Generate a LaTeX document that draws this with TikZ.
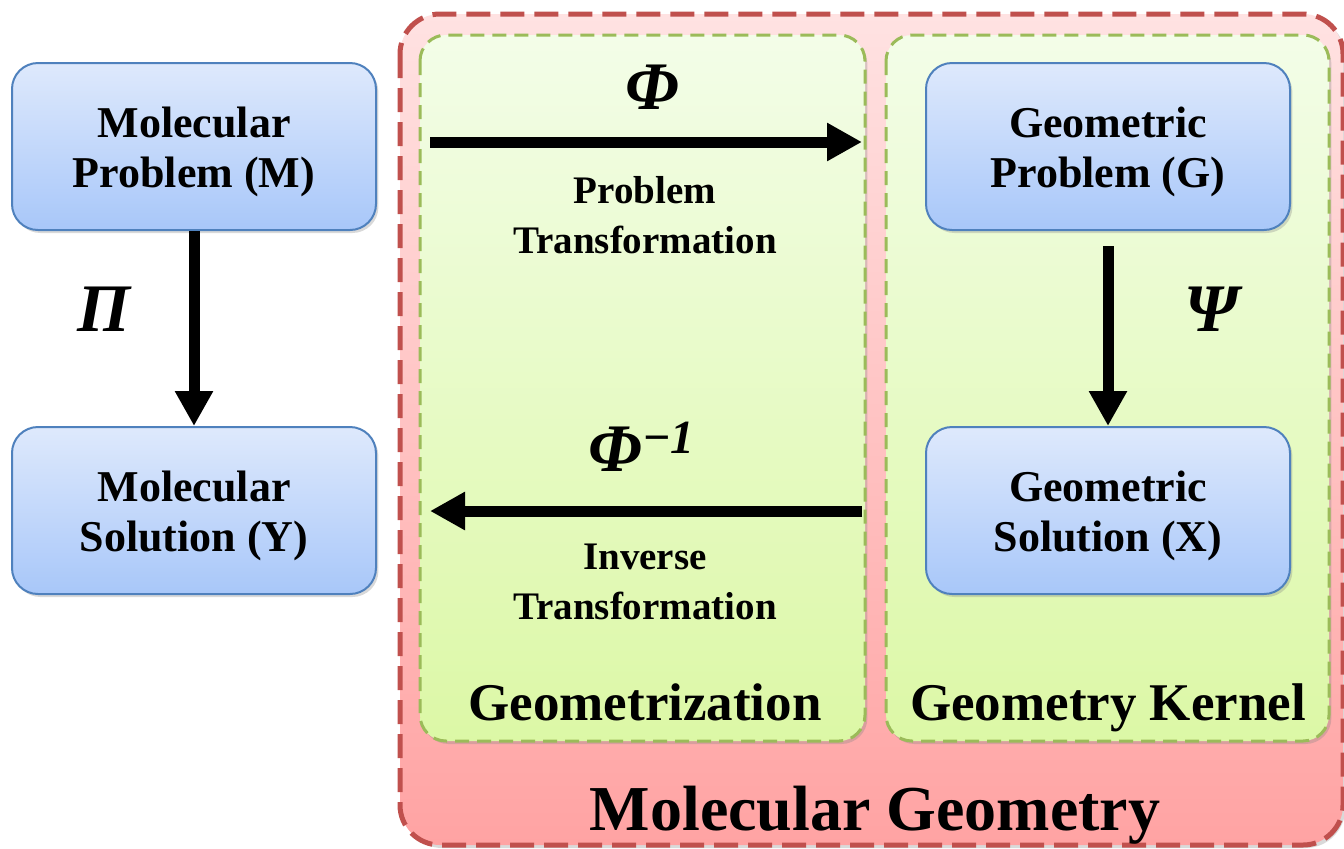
\documentclass[tikz,border=0pt]{standalone}
\usepackage{fontspec}
\setmainfont{Liberation Serif}
\usetikzlibrary{arrows.meta,shadows}
\definecolor{redb}{HTML}{C0504D}
\definecolor{redt}{HTML}{FFE2E2}
\definecolor{redbot}{HTML}{FFA3A3}
\definecolor{greenb}{HTML}{9BBB59}
\definecolor{greent}{HTML}{F3FDE8}
\definecolor{greenbot}{HTML}{DCF8A6}
\definecolor{blueb}{HTML}{4F81BD}
\definecolor{bluet}{HTML}{DEE9FC}
\definecolor{bluebot}{HTML}{A8C7F9}
\tikzset{
  shd/.style={drop shadow={opacity=0.3,shadow xshift=1.2pt,shadow yshift=-1.5pt}},
  outer/.style={draw=redb,line width=2.5pt,dash pattern=on 12pt off 5pt,rounded corners=20pt,
    top color=redt,bottom color=redbot,shd},
  panel/.style={draw=greenb,line width=1.5pt,dash pattern=on 7pt off 4pt,rounded corners=13pt,
    top color=greent,bottom color=greenbot,shd},
  blk/.style={draw=blueb,line width=1pt,rounded corners=13pt,top color=bluet,bottom color=bluebot,
    minimum width=182pt,minimum height=83.5pt,shd},
  blktxt/.style={align=center,font=\fontsize{22}{25}\selectfont\bfseries},
  arr/.style={line width=5.5pt,-{Triangle[length=17.5pt,width=18pt]}},
  lbl/.style={align=center,font=\fontsize{19.5}{25}\selectfont\bfseries},
  greek/.style={font=\fontsize{34}{36}\selectfont\bfseries\itshape},
  ttl/.style={anchor=base,font=\fontsize{26.5}{30}\selectfont\bfseries},
}
\begin{document}
\begin{tikzpicture}[x=0.5pt,y=-0.5pt]
\useasboundingbox (0,0) rectangle (1344,848);
% outer red region
\path[outer] (400,14) rectangle (1343,845);
\node[ttl,font=\fontsize{32}{36}\selectfont\bfseries] (mgeo) at (875,830) {Molecular Geometry};
% green panels
\path[panel] (420,35) rectangle (865,741);
\path[panel] (886,35) rectangle (1329,741);
\node[ttl] (geoz) at (645,720) {Geometrization};
\node[ttl] (geok) at (1108,720) {Geometry Kernel};
% blocks
\node[blk] (M) at (194,146.5) {};
\node[blk] (Y) at (194,510.5) {};
\node[blk] (G) at (1108,146.5) {};
\node[blk] (X) at (1108,510.5) {};
\node[blktxt] (Mt) at (194,152) {Molecular\\Problem (M)};
\node[blktxt] (Yt) at (194,516) {Molecular\\Solution (Y)};
\node[blktxt] (Gt) at (1108,152) {Geometric\\Problem (G)};
\node[blktxt] (Xt) at (1108,516) {Geometric\\Solution (X)};
% arrows
\draw[arr] (M.south) -- (Y.north);
\draw[arr,shorten <=7.5pt] (G.south) -- (X.north);
\coordinate (a1s) at (430,142);
\coordinate (a1e) at (862,142);
\coordinate (a2s) at (862,511);
\coordinate (a2e) at (430,511);
\draw[arr] (a1s) -- (a1e);
\draw[arr] (a2s) -- (a2e);
% labels
\node[greek] (pi) at (104,309) {Π};
\node[greek] (psi) at (1212,309) {Ψ};
\node[greek] (phi) at (652,87) {Φ};
\node[greek] (phiinv) at (642,447) {Φ\textsuperscript{−1}};
\node[lbl] (pt) at (645,215) {Problem\\Transformation};
\node[lbl] (it) at (645,582) {Inverse\\Transformation};
\end{tikzpicture}
\end{document}
